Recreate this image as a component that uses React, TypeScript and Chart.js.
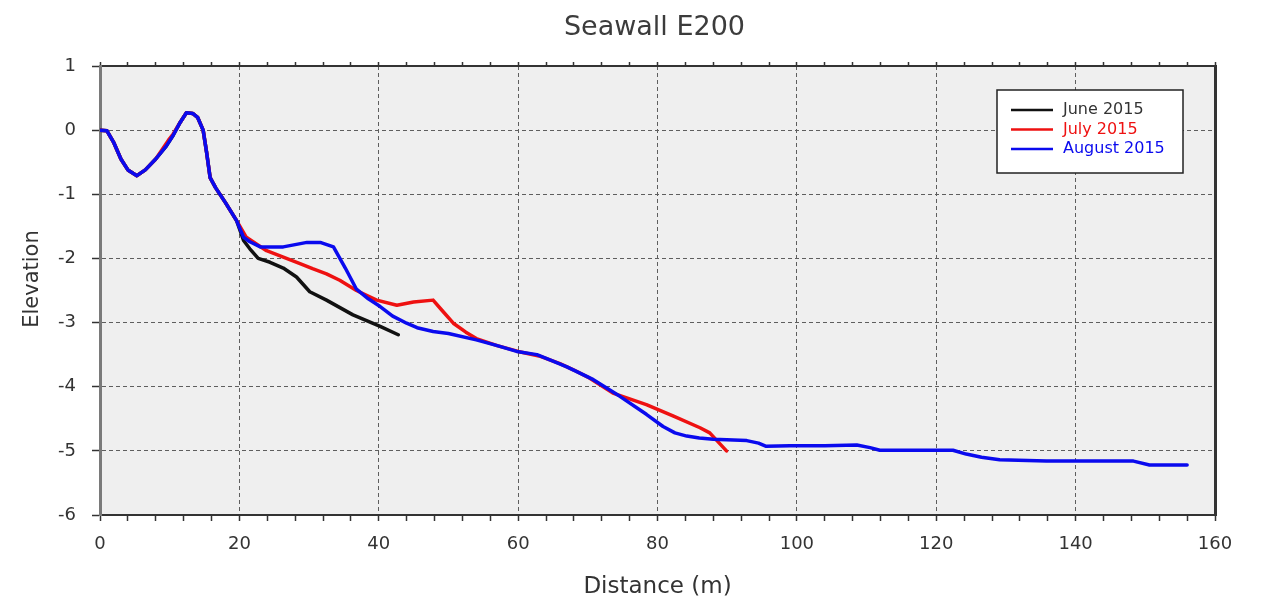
import React, { useEffect, useRef } from "react";
import { Chart, registerables } from "chart.js";

Chart.register(...registerables);

// ---------- data ----------
const chartTitle = "Seawall E200";
const xAxisTitle = "Distance (m)";
const yAxisTitle = "Elevation";

const seriesLabels = ["June 2015", "July 2015", "August 2015"];
const seriesColors = ["#111111", "#ee1111", "#0a0aee"];

const juneX = [0, 1, 2, 3, 4, 5.3, 6.5, 8, 9.5, 10.5, 11.5, 12.4, 13.3, 14, 14.8, 15.3, 15.8, 16.6, 18, 19.6, 20.6, 21.5, 22.7, 24.4, 26.3, 28.2, 30.1, 32.5, 36.3, 40.2, 42.8];
const juneY = [0, -0.01, -0.2, -0.45, -0.62, -0.71, -0.62, -0.45, -0.25, -0.08, 0.12, 0.27, 0.26, 0.2, 0, -0.35, -0.74, -0.9, -1.13, -1.41, -1.72, -1.85, -2.0, -2.06, -2.15, -2.29, -2.52, -2.65, -2.88, -3.06, -3.19];

const julyX = [0, 1, 2, 3, 4, 5.3, 6.5, 8, 9.8, 10.5, 11.5, 12.4, 13.3, 14, 14.8, 15.3, 15.8, 16.6, 18, 19.6, 21, 22.5, 23.9, 26.3, 28.7, 30.5, 32.5, 34.4, 36.8, 39.7, 42.6, 45, 47.8, 49, 50.7, 52.5, 54, 57, 60, 63, 66, 68, 70, 73.6, 78.4, 82.3, 86.1, 87.5, 89.9];
const julyY = [0, -0.01, -0.2, -0.45, -0.62, -0.71, -0.62, -0.45, -0.16, -0.06, 0.12, 0.27, 0.26, 0.2, 0, -0.35, -0.74, -0.9, -1.13, -1.41, -1.67, -1.78, -1.88, -1.98, -2.08, -2.16, -2.24, -2.34, -2.5, -2.65, -2.73, -2.68, -2.65, -2.8, -3.01, -3.15, -3.25, -3.36, -3.45, -3.52, -3.64, -3.74, -3.85, -4.1, -4.28, -4.46, -4.64, -4.72, -5.0];

const augustX = [0, 1, 2, 3, 4, 5.3, 6.5, 8, 9.5, 10.5, 11.5, 12.4, 13.3, 14, 14.8, 15.3, 15.8, 16.6, 18, 19.6, 20.6, 21.5, 23, 26.3, 29.7, 31.6, 33.5, 35.2, 36.8, 38.5, 40.2, 42, 44, 45.5, 47.8, 50, 54, 57, 59.8, 62.7, 65, 67, 70.8, 74.6, 78.4, 80.8, 82.5, 84.2, 86, 88, 92.8, 94.5, 95.6, 99, 104, 108.6, 110.5, 111.9, 122.4, 124.3, 126.5, 129.1, 135.8, 148.3, 150.6, 156];
const augustY = [0, -0.01, -0.2, -0.45, -0.62, -0.71, -0.62, -0.45, -0.25, -0.08, 0.12, 0.27, 0.26, 0.2, 0, -0.35, -0.74, -0.9, -1.13, -1.41, -1.67, -1.74, -1.82, -1.82, -1.75, -1.75, -1.82, -2.15, -2.48, -2.63, -2.75, -2.9, -3.01, -3.08, -3.14, -3.17, -3.27, -3.36, -3.45, -3.5, -3.6, -3.69, -3.89, -4.15, -4.43, -4.62, -4.72, -4.77, -4.8, -4.82, -4.84, -4.88, -4.93, -4.92, -4.92, -4.91, -4.95, -4.99, -4.99, -5.05, -5.1, -5.14, -5.16, -5.16, -5.22, -5.22];

const seriesX = [juneX, julyX, augustX];
const seriesY = [juneY, julyY, augustY];
const seriesOrder = [2, 1, 0];

const xMin = 0;
const xMax = 160;
const xMinorStep = 4;
const xMajorStep = 20;
const yMin = -6;
const yMax = 1;
const yStep = 1;

// ---------- style ----------
const FONT = "'DejaVu Sans', sans-serif";
const TEXT = "#333333";
const GRID = "#5e5e5e";
const PLOT_BG = "#efefef";

const plotBackground = {
  id: "plotBackground",
  beforeDraw(chart: any) {
    const { ctx, chartArea: a } = chart;
    ctx.save();
    ctx.fillStyle = PLOT_BG;
    ctx.fillRect(a.left, a.top, a.right - a.left, a.bottom - a.top);
    ctx.restore();
  },
};

const overlay = {
  id: "overlay",
  afterDraw(chart: any) {
    const { ctx, chartArea: a } = chart;
    // y axis title
    ctx.save();
    ctx.translate(33, (a.top + a.bottom) / 2 - 11.5);
    ctx.rotate(-Math.PI / 2);
    ctx.fillStyle = TEXT;
    ctx.font = `21px ${FONT}`;
    ctx.textAlign = "center";
    ctx.textBaseline = "middle";
    ctx.fillText(yAxisTitle, 0, 0);
    ctx.restore();

    // legend box
    const boxRight = a.right - 32;
    const boxLeft = boxRight - 186;
    const boxTop = a.top + 24;
    const boxH = 83;
    ctx.save();
    ctx.fillStyle = "#ffffff";
    ctx.fillRect(boxLeft, boxTop, boxRight - boxLeft, boxH);
    ctx.strokeStyle = "#222222";
    ctx.lineWidth = 1.5;
    ctx.strokeRect(boxLeft, boxTop, boxRight - boxLeft, boxH);
    ctx.font = `16px ${FONT}`;
    ctx.textBaseline = "middle";
    ctx.textAlign = "left";
    chart.data.datasets.forEach((ds: any, i: number) => {
      const y = boxTop + 20 + i * 19.5;
      ctx.strokeStyle = ds.borderColor;
      ctx.lineWidth = 2.5;
      ctx.beginPath();
      ctx.moveTo(boxLeft + 14, y);
      ctx.lineTo(boxLeft + 56, y);
      ctx.stroke();
      ctx.fillStyle = i === 0 ? "#333333" : ds.borderColor;
      ctx.fillText(ds.label, boxLeft + 66, y);
    });
    ctx.restore();
  },
};

export default function App() {
  const ref = useRef<HTMLCanvasElement | null>(null);

  useEffect(() => {
    if (!ref.current) return;
    const datasets = seriesLabels.map((label, i) => ({
      label,
      data: seriesX[i].map((x, j) => ({ x, y: seriesY[i][j] })),
      borderColor: seriesColors[i],
      backgroundColor: seriesColors[i],
      borderWidth: 3.5,
      borderJoinStyle: "round",
      borderCapStyle: "round",
      pointRadius: 0,
      tension: 0,
      fill: false,
      order: seriesOrder[i],
      xAxisID: "x",
      yAxisID: "y",
    }));

    const chart = new Chart(ref.current, {
      type: "line",
      data: { datasets },
      plugins: [plotBackground, overlay],
      options: {
        animation: false,
        responsive: false,
        devicePixelRatio: 1,
        events: [],
        layout: { padding: { left: 47, right: 12, top: 0, bottom: 0 } },
        plugins: {
          legend: { display: false },
          tooltip: { enabled: false },
          title: {
            display: true,
            text: chartTitle,
            color: "#3c3c3c",
            font: { family: FONT, size: 27, weight: "normal" },
            padding: { top: 12, bottom: 21.6 },
          },
        },
        scales: {
          x: {
            type: "linear",
            position: "bottom",
            min: xMin,
            max: xMax,
            afterFit: (s: any) => {
              s.height = 91;
            },
            ticks: {
              stepSize: xMinorStep,
              autoSkip: false,
              maxRotation: 0,
              padding: 13,
              color: TEXT,
              font: { family: FONT, size: 18 },
              callback: (v: any) => (Number(v) % xMajorStep === 0 ? String(v) : ""),
            },
            grid: {
              color: (c: any) => (c.tick && c.tick.value % xMajorStep === 0 ? GRID : "rgba(0,0,0,0)"),
              lineWidth: 1,
              tickColor: "#333333",
              tickLength: 6,
              tickWidth: 1.5,
            },
            border: { display: true, color: "#333333", width: 2, dash: [4, 3] },
            title: {
              display: true,
              text: xAxisTitle,
              color: TEXT,
              font: { family: FONT, size: 23 },
              padding: { top: 0, bottom: 5 },
            },
          },
          xTop: {
            type: "linear",
            position: "top",
            min: xMin,
            max: xMax,
            afterFit: (s: any) => {
              s.height = 0;
            },
            ticks: { stepSize: xMinorStep, autoSkip: false, display: false },
            grid: { drawOnChartArea: false, tickLength: 4, tickColor: "#333333", tickWidth: 1.5 },
            border: { display: true, color: "#333333", width: 2 },
          },
          y: {
            type: "linear",
            position: "left",
            min: yMin,
            max: yMax,
            afterFit: (s: any) => {
              s.width = 53;
            },
            ticks: {
              stepSize: yStep,
              padding: 16,
              color: TEXT,
              font: { family: FONT, size: 18 },
            },
            grid: {
              color: GRID,
              lineWidth: 1,
              tickColor: "#333333",
              tickLength: 8,
              tickWidth: 1.5,
            },
            border: { display: true, color: "#7a7a7a", width: 3, dash: [4, 3] },
          },
          yRight: {
            type: "linear",
            position: "right",
            min: yMin,
            max: yMax,
            afterFit: (s: any) => {
              s.width = 47;
            },
            ticks: { display: false, stepSize: yStep },
            grid: { drawOnChartArea: false, drawTicks: false },
            border: { display: true, color: "#333333", width: 3 },
          },
        },
      },
    } as any);

    return () => chart.destroy();
  }, []);

  return (
    <div style={{ position: "absolute", left: 0, top: 0, width: 1274, height: 606, background: "#ffffff" }}>
      <canvas ref={ref} width={1274} height={606} />
    </div>
  );
}
